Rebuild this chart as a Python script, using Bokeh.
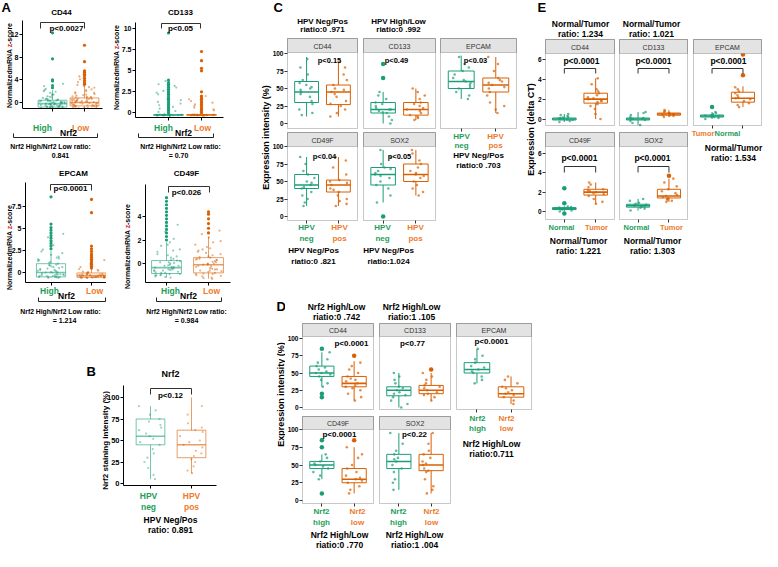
import math
from bokeh.plotting import figure
from bokeh.models import (Label, BoxAnnotation, Range1d, FixedTicker, ColumnDataSource,
                          Arrow, BasicTickFormatter, CustomJSTickFormatter, LinearAxis)
from bokeh.layouts import row, column
from bokeh.embed import file_html
from bokeh.resources import INLINE
from bokeh.transform import jitter

# ============================ DATA ============================
# ---- Panel A: normalized mRNA z-scores, Nrf2 High vs Low
A_GENES = ["CD44", "CD133", "EPCAM", "CD49F"]
A_GROUPS = ["High", "Low"]
A_FACTOR = "Nrf2"
A_P = ["p<0.0027", "p<0.05", "p<0.0001", "p<0.026"]
A_RATIO_1 = ["Nrf2 High/Nrf2 Low  ratio:", "Nrf2 High/Nrf2 Low ratio:",
             "Nrf2 High/Nrf2 Low  ratio:", "Nrf2 High/Nrf2 Low ratio:"]
A_RATIO_2 = ["0.841", "= 0.70", "= 1.214", "= 0.984"]
A_YLABEL = ["NormalizedmRNA", "z", "-score"]
A_YTICKS = [[0, 4, 8, 12], [0, 2.5, 5, 7.5, 10], [0, 2.5, 5, 7.5], [0, 2, 4]]
# box stats: lower whisker, Q1, median, Q3, upper whisker
A_HIGH_BOX = [[-1.1, -0.8, -0.2, 0.4, 2.2], [-0.35, -0.3, -0.25, -0.2, -0.1],
              [-0.6, -0.5, 0.0, 1.0, 2.5], [-1.2, -0.85, -0.35, 0.25, 1.8]]
A_LOW_BOX = [[-1.1, -0.6, 0.0, 0.8, 2.9], [-0.35, -0.3, -0.25, -0.2, -0.1],
             [-0.6, -0.55, -0.35, -0.05, 0.4], [-1.3, -0.8, -0.1, 0.5, 2.3]]
A_HIGH_OUT = [[2.6, 3.0, 3.8, 4.0, 7.7, 12.3],
              [0.0, 0.2, 0.4, 0.6, 0.8, 1.0, 1.2, 1.4, 1.6, 1.8, 2.0, 2.2, 2.4, 2.6, 2.8, 3.0,
               3.2, 3.4, 3.6, 3.9, 9.5],
              [2.7, 3.0, 3.3, 3.6, 3.9, 4.2, 4.5, 4.8, 5.1, 5.5, 8.6],
              [2.0, 2.3, 2.6, 2.9, 3.2, 3.5, 3.8, 4.1, 4.4, 4.7, 5.0, 5.3, 5.6]]
A_LOW_OUT = [[3.2, 3.5, 3.9, 4.3, 4.7, 5.0, 5.3, 5.6, 7.2, 10.1],
             [0.0, 0.2, 0.4, 0.6, 0.8, 1.0, 1.2, 1.4, 1.6, 1.8, 2.0, 2.5, 5.0, 5.3, 6.2, 7.3],
             [0.5, 0.7, 0.9, 1.1, 1.3, 1.5, 1.7, 1.9, 2.1, 2.4, 2.7, 3.0, 6.8, 8.3],
             [2.6, 3.0, 3.4, 3.8, 4.2, 4.4]]
A_HIGH_PTS = [
    [-1.0, -0.9, -0.9, -0.8, -0.8, -0.7, -0.7, -0.6, -0.5, -0.5, -0.4, -0.4, -0.3, -0.3, -0.2,
     -0.2, -0.1, 0.0, 0.0, 0.1, 0.1, 0.2, 0.3, 0.3, 0.4, 0.5, 0.6, 0.8, 0.9, 1.1, 1.3, 1.5, 1.7,
     2.0, 2.2, -0.6, -0.2, 0.2, -0.8, 0.6, -0.95, -0.75, -0.55, -0.35, -0.15, 0.05, 0.25, 0.45,
     0.7, 1.0, 1.4, 1.9, 2.4, 2.9, 3.3, -0.65, -0.45, -0.05, 0.15, 0.35],
    [-0.35, -0.3, -0.3, -0.3, -0.3, -0.3, -0.3, -0.3, -0.3, -0.25, -0.25, -0.25, -0.2, -0.2,
     -0.2, -0.3, -0.3, -0.3, 0.2, 0.5, 0.9, 1.3, 1.7, 2.2, 2.6, 3.0, 3.4, 3.8, -0.3, -0.3,
     -0.3, -0.3, -0.25, -0.25, -0.2, -0.3, 0.1, 0.7, 1.1, 1.5, 2.4, 3.2],
    [-0.6, -0.6, -0.5, -0.5, -0.5, -0.4, -0.4, -0.3, -0.3, -0.2, -0.2, -0.1, 0.0, 0.0, 0.1, 0.2,
     0.3, 0.4, 0.5, 0.6, 0.7, 0.8, 0.9, 1.0, 1.2, 1.4, 1.6, 1.8, 2.0, 2.2, 2.4, -0.5, -0.3, 0.0,
     0.3, 0.6, 1.1, -0.4, 0.2, 1.5, -0.55, -0.45, -0.25, -0.15, 0.05, 0.45, 0.85, 1.3, 1.7,
     2.6, 3.1, 3.5, 4.0, 4.4],
    [-1.2, -1.1, -1.0, -1.0, -0.9, -0.9, -0.8, -0.7, -0.6, -0.6, -0.5, -0.4, -0.4, -0.3, -0.2,
     -0.1, 0.0, 0.1, 0.2, 0.3, 0.4, 0.6, 0.8, 1.0, 1.2, 1.5, 1.8, -0.8, -0.5, -0.2, 0.1, -1.0,
     -0.6, 0.5, -0.3, -1.15, -0.95, -0.75, -0.55, -0.35, -0.15, 0.05, 0.25, 0.7, 1.1, 1.6, 2.1,
     2.7, 3.3]]
A_LOW_PTS = [
    [-1.0, -0.9, -0.8, -0.7, -0.6, -0.6, -0.5, -0.4, -0.3, -0.2, -0.1, 0.0, 0.0, 0.1, 0.2, 0.3,
     0.4, 0.5, 0.6, 0.7, 0.8, 0.9, 1.0, 1.2, 1.4, 1.6, 1.8, 2.0, 2.3, 2.6, 2.9, -0.4, 0.2, 0.6,
     -0.8, 1.1, 0.4, -0.2, 0.9, 1.5, -0.95, -0.75, -0.55, -0.35, -0.15, 0.05, 0.25, 0.45, 0.65,
     0.85, 1.3, 1.7, 2.2, 2.7, 3.1, 3.6, 4.1, 4.6, -0.65, 0.15],
    [-0.35, -0.3, -0.3, -0.3, -0.3, -0.3, -0.3, -0.3, -0.3, -0.25, -0.25, -0.25, -0.2, -0.2,
     -0.2, -0.3, -0.3, -0.3, 0.1, 0.4, 0.8, 1.2, 1.6, 2.0, -0.3, -0.3, -0.3, -0.3, -0.25,
     -0.2, 0.3, 0.6, 1.0, 1.4],
    [-0.6, -0.6, -0.6, -0.6, -0.55, -0.55, -0.5, -0.5, -0.5, -0.45, -0.45, -0.4, -0.4, -0.35,
     -0.3, -0.3, -0.25, -0.2, -0.15, -0.1, -0.05, 0.0, 0.1, 0.2, 0.3, 0.4, -0.6, -0.5, -0.4, -0.3,
     -0.6, -0.55, -0.5, -0.45, -0.35, -0.25, -0.15, 0.05, 0.6, 1.0, 1.4],
    [-1.3, -1.2, -1.1, -1.0, -0.9, -0.8, -0.7, -0.6, -0.5, -0.4, -0.3, -0.2, -0.1, 0.0, 0.1, 0.2,
     0.3, 0.4, 0.5, 0.6, 0.8, 1.0, 1.2, 1.4, 1.6, 1.9, 2.2, -0.9, -0.5, -0.1, 0.3, 0.7, -0.6, 0.0,
     0.4, 1.1, 2.5, 2.8, -1.25, -1.05, -0.85, -0.65, -0.45, -0.25, -0.05, 0.15, 0.35, 0.55,
     0.9, 1.3, 1.8]]

# ---- Panel B: Nrf2 staining intensity, HPV neg vs pos
B_GENE = "Nrf2"
B_XLAB = [("HPV", "neg"), ("HPV", "pos")]
B_P = "p<0.12"
B_RATIO = ("HPV Neg/Pos", "ratio: 0.891")
B_YLABEL = "Nrf2 staining intensity (%)"
B_YTICKS = [0, 25, 50, 75, 100]
B_NEG_BOX = [5, 45, 55, 75, 90]
B_POS_BOX = [12, 30, 45, 62, 100]
B_NEG_PTS = [5, 10, 18, 25, 30, 35, 40, 45, 48, 52, 55, 58, 62, 65, 68, 72, 75, 80, 85, 90]
B_POS_PTS = [12, 15, 20, 25, 28, 32, 35, 38, 42, 45, 48, 50, 55, 60, 62, 65, 70, 80, 90, 100]

# ---- Panel C: expression intensity (%), HPV neg vs pos
C_GENES = ["CD44", "CD133", "EPCAM", "CD49F", "SOX2"]
C_XLAB = [("HPV", "neg"), ("HPV", "pos")]
C_P = ["p<0.15", "p<0.49", "p<0.03", "p<0.04", "p<0.05"]
C_HEAD = [("HPV Neg/Pos", "riatio:0 .971"), ("HPV High/Low", "riatio:0 .992")]
C_FOOT = [None, None, ("HPV Neg/Pos", "riatio:0 .703"), ("HPV Neg/Pos", "riatio:0 .821"),
          ("HPV Neg/Pos", "riatio:1.024")]
CD_YLABEL = "Expression intensity (%)"
C_YTICKS = [0, 25, 50, 75, 100]
C_NEG_BOX = [[10, 30, 45, 60, 95], [0, 15, 20, 30, 45], [35, 50, 60, 75, 97],
             [15, 40, 45, 60, 85], [20, 45, 60, 70, 95]]
C_POS_BOX = [[10, 27, 45, 55, 88], [5, 12, 20, 30, 50], [15, 45, 55, 65, 95],
             [15, 35, 45, 52, 85], [30, 50, 60, 75, 95]]
C_NEG_OUT = [[], [65, 85], [], [], [0]]
C_POS_OUT = [[], [], [], [], []]
C_NEG_PTS = [[12, 15, 20, 28, 32, 38, 42, 45, 48, 50, 52, 55, 58, 62, 70, 80, 92],
             [0, 5, 10, 15, 16, 18, 20, 20, 22, 25, 28, 30, 35, 40, 45],
             [35, 40, 45, 50, 52, 55, 58, 60, 62, 65, 70, 75, 80, 85, 95],
             [15, 20, 25, 30, 35, 40, 42, 45, 48, 50, 55, 60, 65, 75, 85],
             [20, 30, 40, 45, 50, 55, 58, 60, 62, 65, 68, 70, 75, 85, 95]]
C_POS_PTS = [[10, 15, 20, 25, 28, 32, 38, 42, 45, 48, 50, 55, 62, 70, 80, 88],
             [5, 8, 10, 12, 15, 18, 20, 22, 25, 28, 30, 35, 40, 45, 50],
             [15, 20, 25, 30, 40, 45, 50, 52, 55, 58, 60, 62, 65, 75, 85, 95],
             [15, 18, 22, 25, 30, 35, 38, 40, 45, 48, 50, 52, 60, 70, 80, 85],
             [30, 35, 40, 45, 50, 55, 58, 60, 62, 65, 70, 75, 80, 90, 95]]

# ---- Panel D: expression intensity (%), Nrf2 high vs low
D_GENES = ["CD44", "CD133", "EPCAM", "CD49F", "SOX2"]
D_XLAB = [("Nrf2", "high"), ("Nrf2", "low")]
D_P = ["p<0.0001", "p<0.77", "p<0.0001", "p<0.0001", "p<0.22"]
D_HEAD = [("Nrf2 High/Low", "riatio:0 .742"), ("Nrf2 High/Low", "riatio:1 .105")]
D_FOOT = [None, None, ("Nrf2 High/Low", "riatio:0.711"), ("Nrf2 High/Low", "riatio:0 .770"),
          ("Nrf2 High/Low", "riatio:1 .004")]
D_YTICKS = [0, 25, 50, 75, 100]
D_HIGH_BOX = [[30, 45, 50, 60, 80], [0, 17, 25, 30, 50], [35, 50, 55, 65, 85],
              [30, 45, 50, 55, 65], [15, 45, 55, 65, 95]]
D_LOW_BOX = [[10, 30, 35, 45, 67], [10, 20, 25, 32, 50], [5, 15, 20, 30, 45],
             [10, 25, 30, 45, 75], [10, 42, 50, 65, 95]]
D_HIGH_OUT = [[15, 20, 85], [], [], [10, 75, 85], []]
D_LOW_OUT = [[75], [55], [], [85], []]
D_HIGH_PTS = [[30, 35, 40, 45, 48, 50, 50, 52, 55, 58, 60, 65, 70, 80],
              [0, 5, 10, 15, 18, 20, 22, 25, 28, 30, 35, 40, 45, 50],
              [35, 40, 45, 50, 52, 55, 58, 60, 65, 70, 75, 85],
              [30, 35, 40, 45, 48, 50, 52, 55, 60, 65],
              [15, 25, 30, 40, 45, 50, 55, 58, 60, 65, 70, 80, 95]]
D_LOW_PTS = [[10, 15, 20, 25, 28, 30, 32, 35, 38, 40, 42, 45, 50, 55, 60, 65],
             [10, 15, 18, 20, 22, 25, 28, 30, 32, 35, 40, 45, 50],
             [5, 10, 15, 18, 20, 22, 25, 28, 30, 35, 40, 45],
             [10, 15, 20, 25, 28, 30, 32, 35, 40, 45, 50, 60, 65, 75],
             [10, 15, 20, 30, 40, 42, 45, 50, 52, 55, 60, 65, 70, 80, 95]]

# ---- Panel E: expression (delta CT), Normal vs Tumor
E_GENES = ["CD44", "CD133", "EPCAM", "CD49F", "SOX2"]
E_XLAB = ["Normal", "Tumor"]
E_P = ["p<0.0001", "p<0.0001", "p<0.0001", "p<0.0001", "p<0.0001"]
E_HEAD = [("Normal/Tumor", "ratio: 1.234"), ("Normal/Tumor", "ratio: 1.021")]
E_FOOT = [None, None, ("Normal/Tumor", "ratio: 1.534"), ("Normal/Tumor", "ratio: 1.221"),
          ("Normal/Tumor", "ratio: 1.303")]
E_YLABEL = "Expression (delta CT)"
E_YTICKS = [0, 2, 4, 6]
E_NORMAL_BOX = [[-0.3, -0.1, 0.0, 0.1, 0.5], [-0.6, -0.1, 0.0, 0.1, 0.7], [0.0, 0.2, 0.3, 0.4, 0.7],
                [0.0, 0.2, 0.3, 0.4, 0.55], [0.1, 0.45, 0.6, 0.75, 1.3]]
E_TUMOR_BOX = [[0.0, 1.6, 2.0, 2.6, 4.1], [0.2, 0.38, 0.5, 0.6, 0.9], [1.2, 1.7, 2.1, 2.7, 3.3],
               [0.8, 1.7, 2.0, 2.3, 3.0], [1.0, 1.4, 1.6, 2.3, 3.4]]
E_NORMAL_OUT = [[], [], [1.2], [-0.2, 0.85, 2.4], []]
E_TUMOR_OUT = [[], [], [4.4, 6.5], [], [3.7]]
E_NORMAL_PTS = [[-0.3, -0.2, -0.1, -0.05, 0, 0, 0.05, 0.1, 0.15, 0.2, 0.3, 0.4, 0.5],
                [-0.6, -0.4, -0.2, -0.1, 0, 0, 0.05, 0.1, 0.2, 0.4, 0.6, 0.7],
                [0, 0.1, 0.2, 0.25, 0.3, 0.3, 0.35, 0.4, 0.5, 0.6, 0.7],
                [0, 0.1, 0.2, 0.25, 0.3, 0.3, 0.35, 0.4, 0.45, 0.5],
                [0.1, 0.3, 0.4, 0.5, 0.55, 0.6, 0.65, 0.7, 0.8, 0.9, 1.1, 1.3]]
E_TUMOR_PTS = [[0, 0.5, 1.0, 1.3, 1.5, 1.7, 1.8, 1.9, 2.0, 2.1, 2.2, 2.4, 2.6, 2.8, 3.0, 3.5, 4.1],
               [0.2, 0.3, 0.35, 0.4, 0.45, 0.5, 0.5, 0.55, 0.6, 0.7, 0.8, 0.9],
               [1.2, 1.4, 1.6, 1.8, 2.0, 2.1, 2.2, 2.4, 2.6, 2.8, 3.0, 3.2],
               [0.8, 1.0, 1.3, 1.6, 1.8, 1.9, 2.0, 2.1, 2.2, 2.3, 2.5, 2.8, 3.0],
               [1.0, 1.1, 1.2, 1.3, 1.4, 1.5, 1.6, 1.7, 1.9, 2.1, 2.3, 2.6, 3.0, 3.4]]

# ============================ STYLE ============================
FONT = "Liberation Sans"
GREEN = "#1B9E77"
ORANGE = "#D95F02"
GREEN_TXT = "#1E9E5A"
ORANGE_TXT = "#EE7A2C"
RED = "#E41A1C"
PANEL_LINE = "#4D4D4D"
STRIP_FILL = "#E3E3E3"
ARIAL_B = {'N': .722, 'o': .611, 'r': .389, 'm': .889, 'a': .556, 'l': .278, 'i': .278,
           'z': .5, 'e': .556, 'd': .611, 'R': .722, 'A': .722, ' ': .278, '-': .333,
           's': .556, 'c': .556}


def lin(mp, px):
    (v1, p1), (v2, p2) = mp
    return v1 + (px - p1) * (v2 - v1) / (p2 - p1)


def mkfig(rect, xr, yr):
    p = figure(width=rect[2] - rect[0], height=rect[3] - rect[1], x_range=xr, y_range=yr,
               output_backend="svg", toolbar_location=None,
               x_axis_location=None, y_axis_location=None,
               min_border_left=0, min_border_right=0, min_border_top=0, min_border_bottom=0)
    p.grid.visible = False
    p.outline_line_color = None
    p.background_fill_color = "white"
    p.border_fill_color = "white"
    return p


def plot_fig(rect, xmap, ymap):
    return mkfig(rect, Range1d(lin(xmap, rect[0]), lin(xmap, rect[2])),
                 Range1d(lin(ymap, rect[3]), lin(ymap, rect[1])))


def text_fig(rect):
    # data units == reference pixels
    return mkfig(rect, Range1d(rect[0], rect[2]), Range1d(rect[3], rect[1]))


def lab(p, rect, x, y, text, size, color="black", bold=True, align="center", base="middle"):
    p.add_layout(Label(x=x - rect[0], y=rect[3] - y, x_units="screen", y_units="screen",
                       text=text, text_font=FONT, text_font_size=f"{size}px",
                       text_font_style="bold" if bold else "normal", text_color=color,
                       text_align=align, text_baseline=base))


def sline(p, rect, x0, y0, x1, y1, color="#222222", w=1.0):
    p.add_layout(Arrow(x_start=x0 - rect[0], y_start=rect[3] - y0, x_end=x1 - rect[0],
                       y_end=rect[3] - y1, start_units="screen", end_units="screen",
                       start=None, end=None, line_color=color, line_width=w))


def vlabel(p, xd, ylo, yhi, text, size, color="black"):
    ax = LinearAxis(fixed_location=xd, bounds=(min(ylo, yhi), max(ylo, yhi)),
                    ticker=FixedTicker(ticks=[]))
    ax.axis_line_color = None
    ax.major_tick_out = 0
    ax.major_tick_in = 0
    ax.minor_tick_out = 0
    ax.minor_tick_in = 0
    ax.major_label_standoff = 0
    ax.major_label_text_font_size = "1px"
    ax.axis_label = text
    ax.axis_label_standoff = 0
    ax.axis_label_text_font = FONT
    ax.axis_label_text_font_size = f"{size}px"
    ax.axis_label_text_font_style = "bold"
    ax.axis_label_text_color = color
    p.add_layout(ax, "left")


def add_yaxis(p, xloc, bounds, ticks, decimals, line, size):
    ax = LinearAxis(fixed_location=xloc, bounds=bounds, ticker=FixedTicker(ticks=ticks))
    if decimals:
        ax.formatter = BasicTickFormatter(precision=1)
    ax.axis_line_color = "black" if line else None
    ax.major_tick_line_color = "black" if line else "#333333"
    ax.major_tick_in = 0
    ax.major_tick_out = 3
    ax.minor_tick_line_color = None
    ax.major_label_text_font = FONT
    ax.major_label_text_font_size = f"{size}px"
    ax.major_label_text_font_style = "bold"
    ax.major_label_text_color = "black"
    ax.major_label_standoff = 1
    p.add_layout(ax, "left")


def add_xaxis(p, yloc, bounds, line):
    ax = LinearAxis(fixed_location=yloc, bounds=bounds, ticker=FixedTicker(ticks=[1, 2]),
                    formatter=CustomJSTickFormatter(code="return ''"))
    ax.axis_line_color = "black" if line else None
    ax.major_tick_line_color = "black" if line else "#333333"
    ax.major_tick_in = 0
    ax.major_tick_out = 3
    ax.minor_tick_line_color = None
    ax.major_label_text_font_size = "1px"
    p.add_layout(ax, "below")


def draw_boxes(p, stats, colors, w, alpha=1.0, lw=1.0):
    for x, s, c in zip([1, 2], stats, colors):
        src = ColumnDataSource(dict(x=[x], lo=[s[0]], q1=[s[1]], md=[s[2]], q3=[s[3]], hi=[s[4]],
                                    l=[x - w / 2], r=[x + w / 2]))
        p.segment(x0="x", y0="q3", x1="x", y1="hi", source=src, line_color=c,
                  line_alpha=alpha, line_width=lw)
        p.segment(x0="x", y0="lo", x1="x", y1="q1", source=src, line_color=c,
                  line_alpha=alpha, line_width=lw)
        p.quad(left="l", right="r", bottom="q1", top="q3", source=src, fill_color="white",
               fill_alpha=0.0, line_color=c, line_alpha=alpha, line_width=lw)
        p.segment(x0="l", y0="md", x1="r", y1="md", source=src, line_color=c,
                  line_alpha=alpha, line_width=lw * 1.6)


def dots(p, x, vals, color, size, alpha, jw):
    if not vals:
        return
    src = ColumnDataSource(dict(x=[x] * len(vals), y=vals))
    p.scatter(x=jitter("x", width=jw), y="y", source=src, size=size, fill_color=color,
              line_color=None, fill_alpha=alpha)


def outl(p, x, vals, color, size):
    if not vals:
        return
    p.scatter(x=[x] * len(vals), y=vals, size=size, fill_color=color, line_color=None)


def bracket_px(p, rect, x0, x1, top_px, end_px, color="#333333"):
    sline(p, rect, x0, top_px, x1, top_px, color)
    sline(p, rect, x0, top_px, x0, end_px, color)
    sline(p, rect, x1, top_px, x1, end_px, color)


def bracket(p, ymap, top_px, end_px, color="#333333"):
    yt, ye = lin(ymap, top_px), lin(ymap, end_px)
    p.segment(x0=[1, 1, 2], y0=[yt, yt, yt], x1=[2, 1, 2], y1=[yt, ye, ye],
              line_color=color, line_width=1)


def tw(s, size):
    return sum(ARIAL_B.get(c, 0.6) for c in s) * size


def ylab_z(p, xmap, ymap, x_px, yc_px, size):
    # "NormalizedmRNA z-score" with a red z, as three label pieces
    t1, tz, t3 = A_YLABEL
    total = tw(t1 + " " + tz + t3, size)
    bottom = yc_px + total / 2
    pieces = [(t1, bottom - tw(t1, size) / 2, "black"),
              (tz, bottom - tw(t1 + " ", size) - tw(tz, size) / 2, RED),
              (t3, bottom - tw(t1 + " " + tz, size) - tw(t3, size) / 2, "black")]
    xd = lin(xmap, x_px)
    for t, c, col in pieces:
        vlabel(p, xd, lin(ymap, c - 1), lin(ymap, c + 1), t, size, col)


# ============================ PANEL A ============================
DX = 4
A_RECTS = [(6, 5, 112, 168), (112, 5, 264, 168), (6, 168, 112, 330), (112, 168, 264, 330)]
A_AREAS = [(24, 25, 104, 113), (137, 27, 225, 122), (27, 187, 113, 287), (147, 189, 232, 287)]
A_XMAP = [((1, 54), (2, 86)), ((1, 170), (2, 203)), ((1, 52.5), (2, 93)), ((1, 168), (2, 210))]
A_YMAP = [((0, 107), (12, 39)), ((0, 117.3), (10, 33.3)), ((0, 277), (7.5, 211)),
          ((0, 268), (4, 221))]
A_BOXW = [0.9, 0.9, 0.72, 0.71]
A_JIT = [0.8, 0.8, 0.65, 0.65]
A_SIG = [(42, 86, 27, 33), (163, 202, 28, 33), (52, 93, 189, 195), (170, 211, 191, 197)]
A_P_XY = [(68, 33), (182, 33), (72, 193), (188, 197)]
A_TITLE_XY = [(63, 17), (182, 17), (75, 178), (188, 178)]
A_GLAB_XY = [((44, 132), (82, 132)), ((165, 132), (204, 132)), ((51, 295), (96, 295)),
             ((172, 295), (213, 295))]
A_FAC_XY = [(70, 137), (185, 137), (68, 300), (190, 300)]
A_BRK = [(15, 99, 142), (140, 215, 142), (40, 107, 306), (158, 223, 306)]
A_RATIO_XY = [((53, 151), (62, 160)), ((182, 151), (180, 160)), ((63, 316), (66, 325)),
              ((188, 316), (188, 325))]
A_YLAB_XY = [(10, 70), (117, 72), (10, 252), (128, 251)]
A_DEC = [False, True, True, False]

a_figs = []
for i in range(4):
    rect = A_RECTS[i]
    pa = (A_AREAS[i][0] + DX, A_AREAS[i][1], A_AREAS[i][2] + DX, A_AREAS[i][3])
    xmap = ((1, A_XMAP[i][0][1] + DX), (2, A_XMAP[i][1][1] + DX))
    ymap = A_YMAP[i]
    p = plot_fig(rect, xmap, ymap)
    L, R = lin(xmap, pa[0]), lin(xmap, pa[2])
    B, T = lin(ymap, pa[3]), lin(ymap, pa[1])
    add_yaxis(p, L, (B, T), A_YTICKS[i], A_DEC[i], True, 7)
    add_xaxis(p, B, (L, R), True)
    draw_boxes(p, [A_HIGH_BOX[i], A_LOW_BOX[i]], [GREEN, ORANGE], A_BOXW[i], alpha=0.6)
    dots(p, 1, A_HIGH_PTS[i], GREEN, 2.2, 0.5, A_JIT[i])
    dots(p, 2, A_LOW_PTS[i], ORANGE, 2.2, 0.5, A_JIT[i])
    outl(p, 1, A_HIGH_OUT[i], GREEN, 3.2)
    outl(p, 2, A_LOW_OUT[i], ORANGE, 3.2)
    sx0, sx1, st, se = A_SIG[i]
    bracket_px(p, rect, sx0 + DX, sx1 + DX, st, se)
    lab(p, rect, A_P_XY[i][0] + DX, A_P_XY[i][1], A_P[i], 8)
    lab(p, rect, A_TITLE_XY[i][0] + DX, A_TITLE_XY[i][1], A_GENES[i], 8)
    lab(p, rect, A_GLAB_XY[i][0][0] + DX, A_GLAB_XY[i][0][1], A_GROUPS[0], 8.5, GREEN_TXT)
    lab(p, rect, A_GLAB_XY[i][1][0] + DX, A_GLAB_XY[i][1][1], A_GROUPS[1], 8.5, ORANGE_TXT)
    lab(p, rect, A_FAC_XY[i][0] + DX, A_FAC_XY[i][1], A_FACTOR, 8.5)
    bx0, bx1, by = A_BRK[i]
    bracket_px(p, rect, bx0 + DX, bx1 + DX, by, by - 4, "#222222")
    lab(p, rect, A_RATIO_XY[i][0][0] + DX, A_RATIO_XY[i][0][1], A_RATIO_1[i], 6.8)
    lab(p, rect, A_RATIO_XY[i][1][0] + DX, A_RATIO_XY[i][1][1], A_RATIO_2[i], 7)
    ylab_z(p, xmap, ymap, A_YLAB_XY[i][0] + DX + 3.5, A_YLAB_XY[i][1], 7)
    if i == 0:
        lab(p, rect, 7, 12, "A", 13, align="left")
    a_figs.append(p)

# ============================ PANEL B ============================
B_RECT = (6, 330, 264, 550)
B_AREA = (125 + DX, 390, 218 + DX, 490)
B_XMAP = ((1, 152 + DX), (2, 193 + DX))
B_YMAP = ((0, 488), (100, 402))
pB = plot_fig(B_RECT, B_XMAP, B_YMAP)
L, R = lin(B_XMAP, B_AREA[0]), lin(B_XMAP, B_AREA[2])
Bb, Tb = lin(B_YMAP, B_AREA[3]), lin(B_YMAP, B_AREA[1])
add_yaxis(pB, L, (Bb, Tb), B_YTICKS, False, True, 7.5)
add_xaxis(pB, Bb, (L, R), True)
draw_boxes(pB, [B_NEG_BOX, B_POS_BOX], [GREEN, ORANGE], 0.7, alpha=0.6)
dots(pB, 1, B_NEG_PTS, GREEN, 2.2, 0.45, 0.6)
dots(pB, 2, B_POS_PTS, ORANGE, 2.2, 0.45, 0.6)
bracket_px(pB, B_RECT, 152 + DX, 193 + DX, 393, 399)
lab(pB, B_RECT, 172 + DX, 400, B_P, 8)
lab(pB, B_RECT, 172 + DX, 378, B_GENE, 9)
lab(pB, B_RECT, 88 + DX, 376, "B", 13, align="left")
vlabel(pB, lin(B_XMAP, 111 + DX), lin(B_YMAP, 444), lin(B_YMAP, 446), B_YLABEL, 8)
for k, (xx, c) in enumerate([(150, GREEN_TXT), (193, ORANGE_TXT)]):
    lab(pB, B_RECT, xx + DX, 500, B_XLAB[k][0], 8.5, c)
    lab(pB, B_RECT, xx + DX, 511, B_XLAB[k][1], 8.5, c)
lab(pB, B_RECT, 172 + DX, 524, B_RATIO[0], 8.5)
lab(pB, B_RECT, 172 + DX, 534, B_RATIO[1], 8.5)


# ============================ FACETS ============================
def facet(rect, pa, strip_h, ymap, yticks, gene, stats, pts, outs, show_y, show_x,
          boxw=0.75, pt_size=2.6):
    w = pa[2] - pa[0]
    xmap = ((1, pa[0] + 0.6 * w / 2.2), (2, pa[0] + 1.6 * w / 2.2))
    p = plot_fig(rect, xmap, ymap)
    L, R = lin(xmap, pa[0]), lin(xmap, pa[2])
    B, T = lin(ymap, pa[3]), lin(ymap, pa[1])
    S = lin(ymap, pa[1] + strip_h)
    p.add_layout(BoxAnnotation(left=L, right=R, bottom=S, top=T, fill_color=STRIP_FILL,
                               fill_alpha=1.0, line_color=PANEL_LINE, line_width=1))
    p.add_layout(BoxAnnotation(left=L, right=R, bottom=B, top=T, fill_color=None,
                               fill_alpha=0.0, line_color=PANEL_LINE, line_width=1))
    lab(p, rect, (pa[0] + pa[2]) / 2, pa[1] + strip_h / 2 + 0.5, gene, 7, "#333333", False)
    draw_boxes(p, stats, [GREEN, ORANGE], boxw)
    for k, col in enumerate([GREEN, ORANGE]):
        dots(p, k + 1, pts[k], col, pt_size, 0.7, 0.55)
        outl(p, k + 1, outs[k], col, 4.5)
    if show_y:
        add_yaxis(p, L, (B, S), yticks, False, False, 6.5)
    if show_x:
        add_xaxis(p, B, (L, R), False)
    return p, xmap


def ylab_fig(rect, x_right, yc, text, size=9, letter=None):
    p = text_fig(rect)
    vlabel(p, x_right, yc - 1, yc + 1, text, size)
    if letter:
        lab(p, rect, letter[0][0], letter[0][1], letter[1], 13, align="left")
    return p


SHOW_Y = [True, False, False, True, False]
SHOW_X = [False, False, True, True, True]

# ---- C
C_RECTS = [(278, 5, 368, 135), (368, 5, 444, 135), (444, 5, 531, 280), (278, 135, 368, 280),
           (368, 135, 444, 280)]
C_AREAS = [(293, 43, 363, 133), (369, 43, 441, 133), (446, 43, 522, 133), (293, 137, 363, 225),
           (369, 137, 441, 225)]
C_YMAPS = [((0, 128), (100, 58))] * 3 + [((0, 221), (100, 151))] * 2
C_P_XY = [(335, 65), (402, 65), (481, 65), (330, 161), (405, 161)]
C_HEAD_XY = [(328, 26, 34), (404, 26, 34)]
C_XLAB_XY = [None, None, ((467, 141, 150), (501, 141, 150)), ((312, 232, 243), (345, 232, 243)),
             ((388, 232, 243), (421, 232, 243))]
C_FOOT_XY = [None, None, (484, 160, 170), (319, 255, 266), (394, 255, 266)]

c_figs = []
for i in range(5):
    rect = C_RECTS[i]
    p, xm = facet(rect, C_AREAS[i], 14, C_YMAPS[i], C_YTICKS, C_GENES[i],
                  [C_NEG_BOX[i], C_POS_BOX[i]], [C_NEG_PTS[i], C_POS_PTS[i]],
                  [C_NEG_OUT[i], C_POS_OUT[i]], SHOW_Y[i], SHOW_X[i])
    lab(p, rect, *C_P_XY[i], C_P[i], 7.5)
    if i < 2:
        hx, h1, h2 = C_HEAD_XY[i]
        lab(p, rect, hx, h1, C_HEAD[i][0], 8)
        lab(p, rect, hx, h2, C_HEAD[i][1], 8)
    if C_XLAB_XY[i]:
        for k, c in enumerate([GREEN_TXT, ORANGE_TXT]):
            xx, y1, y2 = C_XLAB_XY[i][k]
            lab(p, rect, xx, y1, C_XLAB[k][0], 8, c)
            lab(p, rect, xx, y2, C_XLAB[k][1], 8, c)
        fx, f1, f2 = C_FOOT_XY[i]
        lab(p, rect, fx, f1, C_FOOT[i][0], 8)
        lab(p, rect, fx, f2, C_FOOT[i][1], 8)
    if i == 0:
        lab(p, rect, 279, 12, "C", 13, align="left")
    c_figs.append(p)
c_ylab = ylab_fig((264, 5, 278, 280), 276, 142, CD_YLABEL)

# ---- D
D_RECTS = [(291, 280, 381, 419), (381, 280, 458, 419), (458, 280, 545, 554),
           (291, 419, 381, 554), (381, 419, 458, 554)]
D_AREAS = [(308, 328, 379, 414), (385, 328, 456, 414), (462, 328, 537, 414),
           (308, 421, 379, 508), (385, 421, 456, 508)]
D_YMAPS = [((0, 412), (100, 343))] * 3 + [((0, 505), (100, 434))] * 2
D_P_XY = [(357, 348), (418, 348), (497, 346), (345, 439), (420, 439)]
D_HEAD_XY = [(342, 311, 321), (417, 311, 321)]
D_XLAB_XY = [None, None, ((483, 423, 433), (512, 423, 433)), ((327, 516, 527), (363, 516, 527)),
             ((404, 516, 527), (437, 516, 527))]
D_FOOT_XY = [None, None, (497, 448, 458), (345, 539, 549), (420, 539, 549)]

d_figs = []
for i in range(5):
    rect = D_RECTS[i]
    p, xm = facet(rect, D_AREAS[i], 13, D_YMAPS[i], D_YTICKS, D_GENES[i],
                  [D_HIGH_BOX[i], D_LOW_BOX[i]], [D_HIGH_PTS[i], D_LOW_PTS[i]],
                  [D_HIGH_OUT[i], D_LOW_OUT[i]], SHOW_Y[i], SHOW_X[i])
    lab(p, rect, *D_P_XY[i], D_P[i], 8)
    if i < 2:
        hx, h1, h2 = D_HEAD_XY[i]
        lab(p, rect, hx, h1, D_HEAD[i][0], 8.5)
        lab(p, rect, hx, h2, D_HEAD[i][1], 8.5)
    if D_XLAB_XY[i]:
        for k, c in enumerate([GREEN_TXT, ORANGE_TXT]):
            xx, y1, y2 = D_XLAB_XY[i][k]
            lab(p, rect, xx, y1, D_XLAB[k][0], 8, c)
            lab(p, rect, xx, y2, D_XLAB[k][1], 8, c)
        fx, f1, f2 = D_FOOT_XY[i]
        lab(p, rect, fx, f1, D_FOOT[i][0], 8.5)
        lab(p, rect, fx, f2, D_FOOT[i][1], 8.5)
    d_figs.append(p)
d_ylab = ylab_fig((264, 280, 291, 554), 291, 399, CD_YLABEL, letter=((282, 311), "D"))

# ---- E
E_RECTS = [(541, 5, 621, 135), (621, 5, 694, 135), (694, 5, 768, 280), (541, 135, 621, 280),
           (621, 135, 694, 280)]
E_AREAS = [(550, 44, 619, 130), (624, 44, 692, 130), (698, 44, 766, 130),
           (550, 137, 619, 224), (624, 137, 692, 224)]
E_YMAPS = [((0, 123.5), (6, 64))] * 3 + [((0, 216), (6, 158))] * 2
E_SIG_PX = [(73, 78)] * 3 + [(171, 177)] * 2
E_P_XY = [(586, 65), (658, 65), (733, 65), (584, 162), (657, 162)]
E_HEAD_XY = [(585, 28, 38), (656, 28, 38)]
E_XLAB_XY = [None, None, None, ((566, 232), (601, 232)), ((641, 232), (676, 232))]
E_FOOT_XY = [None, None, (738, 152, 162), (583, 245, 255), (657, 245, 255)]

e_figs = []
for i in range(5):
    rect = E_RECTS[i]
    p, xm = facet(rect, E_AREAS[i], 14, E_YMAPS[i], E_YTICKS, E_GENES[i],
                  [E_NORMAL_BOX[i], E_TUMOR_BOX[i]], [E_NORMAL_PTS[i], E_TUMOR_PTS[i]],
                  [E_NORMAL_OUT[i], E_TUMOR_OUT[i]], SHOW_Y[i], SHOW_X[i])
    bracket(p, E_YMAPS[i], *E_SIG_PX[i])
    lab(p, rect, *E_P_XY[i], E_P[i], 8.5)
    if i < 2:
        hx, h1, h2 = E_HEAD_XY[i]
        lab(p, rect, hx, h1, E_HEAD[i][0], 8.5)
        lab(p, rect, hx, h2, E_HEAD[i][1], 8.5)
    if i == 2:
        lab(p, rect, 719, 138, E_XLAB[1], 7.5, ORANGE_TXT, align="right")
        lab(p, rect, 719, 138, E_XLAB[0], 7.5, GREEN_TXT, align="left")
    if E_XLAB_XY[i]:
        for k, c in enumerate([GREEN_TXT, ORANGE_TXT]):
            xx, yy = E_XLAB_XY[i][k]
            lab(p, rect, xx, yy, E_XLAB[k], 7.5, c)
    if E_FOOT_XY[i]:
        fx, f1, f2 = E_FOOT_XY[i]
        lab(p, rect, fx, f1, E_FOOT[i][0], 8.5)
        lab(p, rect, fx, f2, E_FOOT[i][1], 8.5)
    if i == 0:
        lab(p, rect, 542, 12, "E", 13, align="left")
    e_figs.append(p)
e_ylab = ylab_fig((530, 5, 541, 280), 540, 134, E_YLABEL)

# ============================ LAYOUT ============================
col_a = column(row(a_figs[0], a_figs[1]), row(a_figs[2], a_figs[3]), pB)
c_block = row(c_ylab, column(row(c_figs[0], c_figs[1]), row(c_figs[3], c_figs[4])), c_figs[2])
e_block = row(e_ylab, column(row(e_figs[0], e_figs[1]), row(e_figs[3], e_figs[4])), e_figs[2])
d_block = row(d_ylab, column(row(d_figs[0], d_figs[1]), row(d_figs[3], d_figs[4])), d_figs[2])
root = row(col_a, column(row(c_block, e_block), d_block))

open("out.html", "w").write(file_html(root, INLINE))
